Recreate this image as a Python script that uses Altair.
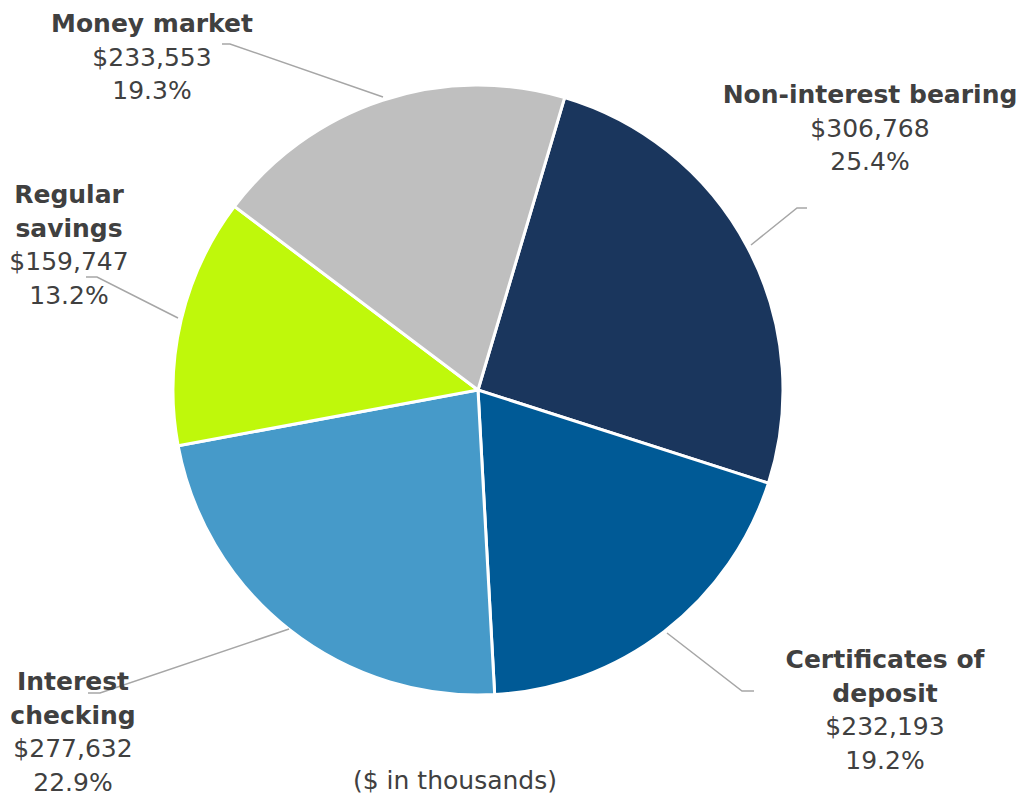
import math
import altair as alt
import pandas as pd

# ---- data ----
categories = ["Non-interest bearing", "Certificates of deposit", "Interest checking",
              "Regular savings", "Money market"]
title_lines = [["Non-interest bearing"], ["Certificates of", "deposit"], ["Interest", "checking"],
               ["Regular", "savings"], ["Money market"]]
amounts = [306768, 232193, 277632, 159747, 233553]
amount_labels = ["$306,768", "$232,193", "$277,632", "$159,747", "$233,553"]
percent_labels = ["25.4%", "19.2%", "22.9%", "13.2%", "19.3%"]
colors = ["#1a365d", "#005a96", "#469ac9", "#bff80b", "#bfbfbf"]
note = "($ in thousands)"

# ---- layout (chart pixel coords; page = chart + 8) ----
W, H = 1015, 787
CX, CY, R = 470, 382, 305
START = math.radians(16.5)
label_anchor = [(862, 95), (877, 660), (65, 682), (61, 195), (144, 24)]
LINE_STEP = 33.5
leaders = [
    [(743, 237), (789, 200), (799, 200)],
    [(659, 625), (734, 683), (746, 683)],
    [(281, 621), (92, 685), (80, 685)],
    [(170, 310), (89, 269), (78, 269)],
    [(375, 89), (222, 36), (214, 36)],
]
FONT = "DejaVu Sans"
FS_B = 25
FS_R = 25
TXT = "#404040"

pie_df = pd.DataFrame({"category": categories, "amount": amounts, "idx": list(range(len(categories)))})

pie = alt.Chart(pie_df).mark_arc(outerRadius=R, stroke="white", strokeWidth=3).encode(
    theta=alt.Theta("amount:Q", stack=True, scale=alt.Scale(range=[START, START + 2 * math.pi])),
    color=alt.Color("category:N", scale=alt.Scale(domain=categories, range=colors), legend=None),
    order=alt.Order("idx:Q"),
    x=alt.value(CX),
    y=alt.value(CY),
)

rows_b, rows_r = [], []
for i, cat in enumerate(categories):
    ax, ay = label_anchor[i]
    k = 0
    for t in title_lines[i]:
        rows_b.append({"t": t, "px": ax, "py": ay + k * LINE_STEP})
        k += 1
    rows_r.append({"t": amount_labels[i], "px": ax, "py": ay + k * LINE_STEP})
    k += 1
    rows_r.append({"t": percent_labels[i], "px": ax, "py": ay + k * LINE_STEP})
rows_r.append({"t": note, "px": 447, "py": 781})

lead_rows = []
for i, pts in enumerate(leaders):
    for j, (px, py) in enumerate(pts):
        lead_rows.append({"cat": categories[i], "o": j, "px": px, "py": py})

lines = alt.Chart(pd.DataFrame(lead_rows)).mark_line(color="#a6a6a6", strokeWidth=1.5).encode(
    x=alt.X("px:Q", scale=None, axis=None),
    y=alt.Y("py:Q", scale=None, axis=None),
    detail="cat:N",
    order="o:Q",
)

bold = alt.Chart(pd.DataFrame(rows_b)).mark_text(
    font=FONT, fontSize=FS_B, fontWeight="bold", color=TXT, align="center", baseline="alphabetic"
).encode(x=alt.X("px:Q", scale=None, axis=None), y=alt.Y("py:Q", scale=None, axis=None), text="t:N")

reg = alt.Chart(pd.DataFrame(rows_r)).mark_text(
    font=FONT, fontSize=FS_R, fontWeight="normal", color=TXT, align="center", baseline="alphabetic"
).encode(x=alt.X("px:Q", scale=None, axis=None), y=alt.Y("py:Q", scale=None, axis=None), text="t:N")

chart = alt.layer(pie, lines, bold, reg).properties(
    width=W, height=H, padding=0, autosize=alt.AutoSizeParams(type="none"), background="white"
).configure_view(stroke=None)

chart.save("out.html", embed_options={"renderer": "svg", "actions": False})
